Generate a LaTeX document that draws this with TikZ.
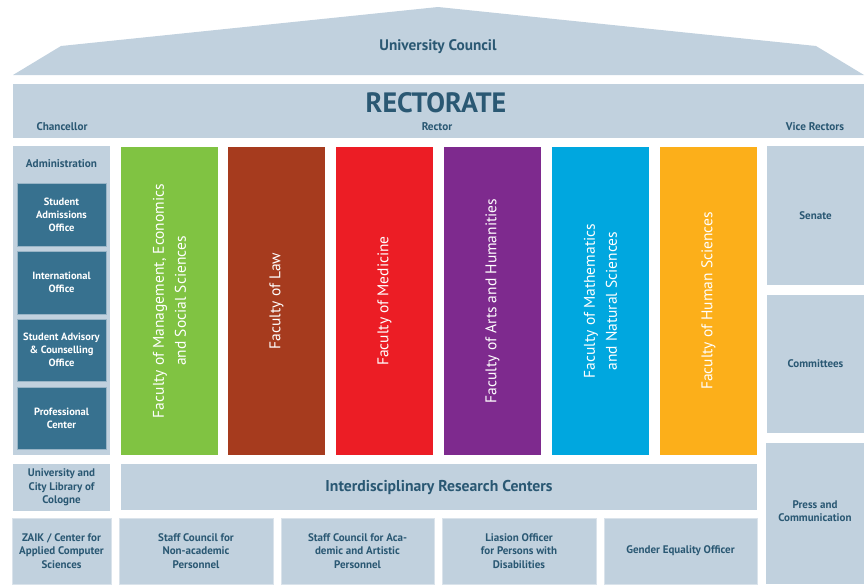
\documentclass[tikz,border=0pt]{standalone}
\usepackage{fontspec}
\setmainfont{PT Sans}
\definecolor{lb}{HTML}{C1D1DE}
\definecolor{db}{HTML}{37718F}
\definecolor{tc}{HTML}{2A5873}
\definecolor{fgreen}{HTML}{80C342}
\definecolor{flaw}{HTML}{A63B1E}
\definecolor{fmed}{HTML}{EC1D25}
\definecolor{farts}{HTML}{7E2A8E}
\definecolor{fmath}{HTML}{00A7DF}
\definecolor{fhum}{HTML}{FCAF1A}
\tikzset{
  box/.style={anchor=north west, inner sep=0pt, outer sep=0pt, align=center, font=\bfseries\fontsize{10.5}{13}\selectfont},
  lbox/.style={box, fill=lb, text=tc, font=\bfseries\fontsize{11}{13.5}\selectfont},
  bbox/.style={lbox, draw=lb!60!white, line width=0.8pt},
  dbox/.style={box, fill=db, text=white, draw=lb!70!db, line width=0.8pt},
  fac/.style={box, text=white},
  factext/.style={inner sep=0pt, align=center, text=white, rotate=90, font=\fontsize{15.5}{22}\selectfont},
  lbl/.style={inner sep=0pt, text=tc, font=\bfseries\fontsize{11}{13.5}\selectfont},
  hdr/.style={lbl, font=\bfseries\fontsize{11.2}{13}\selectfont}
}
\begin{document}
\begin{tikzpicture}[x=1pt,y=-1pt]
\useasboundingbox (0,0) rectangle (867,584);
% roof
\fill[lb] (13,75) -- (61,46) -- (438,7) -- (816,46) -- (864,75) -- cycle;
\node[lbl, font=\bfseries\fontsize{15.3}{17}\selectfont] (council) at (438,47) {University Council};
% rectorate band
\node[lbox, minimum width=851pt, minimum height=54pt] (rect) at (13,84) {};
\node[lbl, font=\bfseries\fontsize{28}{32}\selectfont] (rectt) at (436,103) {RECTORATE};
\node[hdr] (chanc) at (62,127) {Chancellor};
\node[hdr] (rector) at (437,127) {Rector};
\node[hdr] (vice) at (815,127) {Vice Rectors};
% administration
\node[lbox, minimum width=97pt, minimum height=309pt] (admin) at (13,146) {};
\node[hdr] (admint) at (61.5,164) {Administration};
\node[dbox, minimum width=89pt, minimum height=63pt] (sao) at (17,183) {Student\\Admissions\\Office};
\node[dbox, minimum width=89pt, minimum height=63pt] (io) at (17,251) {International\\Office};
\node[dbox, minimum width=89pt, minimum height=62pt] (sac) at (17,319) {Student Advisory\\\& Counselling\\Office};
\node[dbox, minimum width=89pt, minimum height=62pt] (pc) at (17,387) {Professional\\Center};
% faculties
\node[fac, fill=fgreen, minimum width=97pt, minimum height=308pt] (f1) at (121,147) {};
\node[factext] (f1t) at (f1.center) {Faculty of Management, Economics\\and Social Sciences};
\node[fac, fill=flaw, minimum width=97pt, minimum height=308pt] (f2) at (228,147) {};
\node[factext] (f2t) at (f2.center) {Faculty of Law};
\node[fac, fill=fmed, minimum width=97pt, minimum height=308pt] (f3) at (336,147) {};
\node[factext] (f3t) at (f3.center) {Faculty of Medicine};
\node[fac, fill=farts, minimum width=97pt, minimum height=308pt] (f4) at (444,147) {};
\node[factext] (f4t) at (f4.center) {Faculty of Arts and Humanities};
\node[fac, fill=fmath, minimum width=97pt, minimum height=308pt] (f5) at (552,147) {};
\node[factext] (f5t) at (f5.center) {Faculty of Mathematics\\and Natural Sciences};
\node[fac, fill=fhum, minimum width=97pt, minimum height=308pt] (f6) at (660,147) {};
\node[factext] (f6t) at (f6.center) {Faculty of Human Sciences};
% right column
\node[lbox, minimum width=97pt, minimum height=139pt] (senate) at (767,146) {Senate};
\node[lbox, minimum width=97pt, minimum height=138pt] (comm) at (767,295) {Committees};
\node[lbox, minimum width=98pt, minimum height=141pt] (press) at (766,443) {};
\node[lbl, align=center] (presst) at (815,511) {Press and\\Communication};
% lower rows
\node[lbox, minimum width=97pt, minimum height=47pt] (lib) at (13,464) {University and\\City Library of\\Cologne};
\node[lbox, minimum width=636pt, minimum height=46pt, font=\bfseries\fontsize{15.7}{18}\selectfont] (irc) at (121,464) {Interdisciplinary Research Centers};
\node[bbox, minimum width=99pt, minimum height=66pt] (zaik) at (12,518) {ZAIK / Center for\\Applied Computer\\Sciences};
\node[bbox, minimum width=154pt, minimum height=66pt] (scn) at (119,518) {Staff Council for\\Non-academic\\Personnel};
\node[bbox, minimum width=153pt, minimum height=66pt] (sca) at (281,518) {Staff Council for Aca-\\demic and Artistic\\Personnel};
\node[bbox, minimum width=154pt, minimum height=66pt] (lia) at (442,518) {Liasion Officer\\for Persons with\\Disabilities};
\node[bbox, minimum width=153pt, minimum height=66pt] (geo) at (604,518) {Gender Equality Officer};
\end{tikzpicture}
\end{document}
